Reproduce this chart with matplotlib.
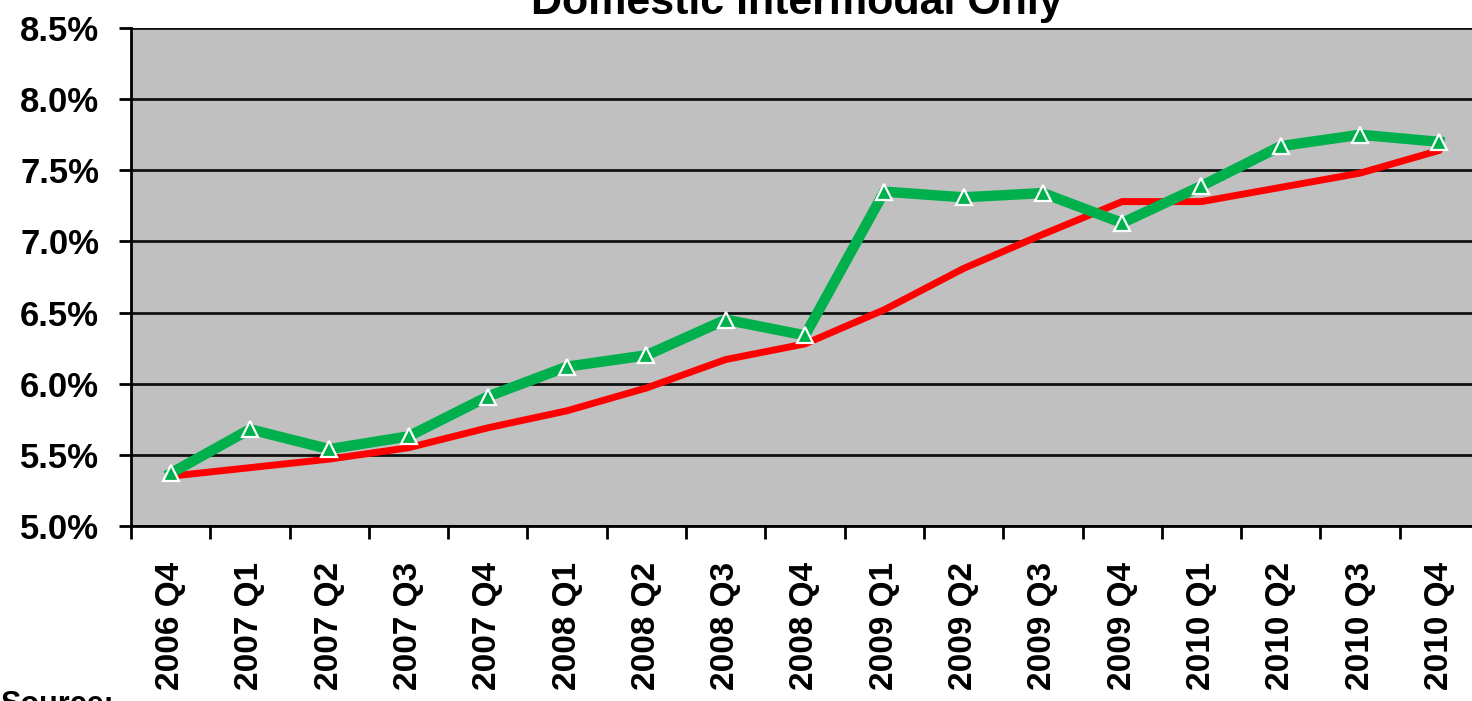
import matplotlib.pyplot as plt
from matplotlib.ticker import FuncFormatter, FixedLocator

plt.rcParams['font.family'] = ['Liberation Sans', 'DejaVu Sans']

# quarters on the x axis
quarters = ["2006 Q4", "2007 Q1", "2007 Q2", "2007 Q3", "2007 Q4",
            "2008 Q1", "2008 Q2", "2008 Q3", "2008 Q4",
            "2009 Q1", "2009 Q2", "2009 Q3", "2009 Q4",
            "2010 Q1", "2010 Q2", "2010 Q3", "2010 Q4"]

# quarterly value (green, with markers)
quarterly = [5.37, 5.68, 5.54, 5.63, 5.91, 6.12, 6.20, 6.45, 6.34,
             7.35, 7.31, 7.34, 7.13, 7.39, 7.67, 7.75, 7.70]

# trend line (red)
trend = [5.35, 5.41, 5.47, 5.55, 5.69, 5.81, 5.97, 6.17, 6.28,
         6.52, 6.81, 7.05, 7.28, 7.28, 7.38, 7.48, 7.64]

yticks = [5.0, 5.5, 6.0, 6.5, 7.0, 7.5, 8.0, 8.5]

fig = plt.figure(figsize=(14.72, 7.01), dpi=100)
ax = fig.add_axes([131 / 1472, 1 - 526 / 701, 1348 / 1472, 498 / 701])
ax.set_facecolor('#c0c0c0')

x = list(range(len(quarters)))
ax.plot(x, trend, color='#ff0000', linewidth=5, zorder=3, solid_capstyle='round')
ax.plot(x, quarterly, color='#00b04c', linewidth=7.5, zorder=4,
        marker='^', markersize=12, markerfacecolor='#00b04c',
        markeredgecolor='white', markeredgewidth=1.6)

ax.set_xlim(-0.5, len(quarters) - 0.5)
ax.set_ylim(5.0, 8.5)
ax.set_yticks(yticks)
ax.yaxis.set_major_formatter(FuncFormatter(lambda v, p: f"{v:.1f}%"))
ax.grid(axis='y', color='#111111', linewidth=2)
ax.set_axisbelow(True)

ax.set_xticks(x)
ax.set_xticklabels(quarters, rotation=90, fontsize=24, fontweight='bold', va='top')
ax.xaxis.set_minor_locator(FixedLocator([i - 0.5 for i in range(len(quarters))]))
ax.tick_params(axis='x', which='major', length=0, pad=26)
ax.tick_params(axis='x', which='minor', length=9, width=2, color='black')
ax.tick_params(axis='y', length=9, width=2, pad=14, labelsize=25)
for lab in ax.get_yticklabels():
    lab.set_fontweight('bold')

for s in ['top', 'right']:
    ax.spines[s].set_visible(False)
for s in ['left', 'bottom']:
    ax.spines[s].set_linewidth(2)
    ax.spines[s].set_color('black')

fig.text(797 / 1472, 1 - 14 / 701, "Domestic Intermodal Only", ha='center',
         va='baseline', fontsize=31, fontweight='bold')
fig.text(0, 1 - 690 / 701, "Source:", ha='left', va='top',
         fontsize=22, fontweight='bold')

fig.savefig('out.png', dpi=100)
